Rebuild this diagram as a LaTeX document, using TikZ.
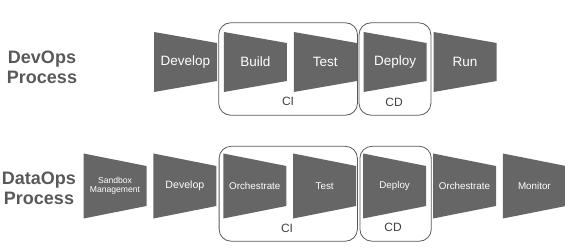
\documentclass[tikz,border=0pt]{standalone}
\usepackage{fontspec}
\setmainfont{Liberation Sans}
\usetikzlibrary{positioning,calc}
\definecolor{stagegray}{HTML}{666666}
\definecolor{boxgray}{HTML}{5A5A5A}
\definecolor{lblgray}{HTML}{595959}
\tikzset{
  stage/.style={minimum width=63pt, minimum height=60pt, inner sep=0pt, text=white,
    font=\fontsize{13.5}{14}\selectfont, align=center,
    path picture={\fill[stagegray] (path picture bounding box.north west)
      -- ([yshift=-11pt]path picture bounding box.north east)
      -- ([yshift=11pt]path picture bounding box.south east)
      -- (path picture bounding box.south west) -- cycle;}},
  sstage/.style={stage, minimum height=65pt, font=\fontsize{9.8}{10}\selectfont,
    path picture={\fill[stagegray] (path picture bounding box.north west)
      -- ([yshift=-12.5pt]path picture bounding box.north east)
      -- ([yshift=12.5pt]path picture bounding box.south east)
      -- (path picture bounding box.south west) -- cycle;}},
  grp/.style={draw=boxgray, line width=0.8pt, rounded corners=12pt},
  grplab/.style={font=\fontsize{12}{12}\selectfont, text=black!75},
  proc/.style={font=\fontsize{18}{20}\selectfont\bfseries, text=lblgray, align=center},
}
\begin{document}
\begin{tikzpicture}[x=1pt, y=1pt, node distance=6.5pt]
 \useasboundingbox (0,0) rectangle (565,-251);
 % DevOps row
 \node[proc] (devops) at (42,-67) {DevOps\\Process};
 \node[stage] (dev) at (185.5,-62) {Develop};
 \node[stage, right=of dev] (build) {Build};
 \node[stage, right=of build] (test) {Test};
 \node[stage, right=of test] (deploy) {Deploy};
 \node[stage, right=of deploy] (run) {Run};
 \draw[grp] ($(build.north west)+(-5,9)$) rectangle ($(test.south east)+(0.5,-23)$);
 \draw[grp] ($(deploy.north west)+(-4.5,9)$) rectangle ($(deploy.south east)+(4,-23)$);
 \node[grplab] (ci) at (288,-101) {CI};
 \node[grplab] (cd) at (394,-102) {CD};
 % DataOps row
 \node[proc] (dataops) at (39,-188) {DataOps\\Process};
 \node[sstage, font=\fontsize{8.6}{9.5}\selectfont] (sbx) at (115,-186) {Sandbox\\Management};
 \node[sstage, right=of sbx, font=\fontsize{10.6}{11}\selectfont] (ddev) {Develop};
 \node[sstage, right=of ddev] (orch) {Orchestrate};
 \node[sstage, right=of orch] (dtest) {Test};
 \node[sstage, right=of dtest] (ddeploy) {Deploy};
 \node[sstage, right=of ddeploy] (orch2) {Orchestrate};
 \node[sstage, right=of orch2] (mon) {Monitor};
 \draw[grp] ($(orch.north west)+(-4,7)$) rectangle ($(dtest.south east)+(1,-22.5)$);
 \draw[grp] ($(ddeploy.north west)+(-3,7)$) rectangle ($(ddeploy.south east)+(5,-22.5)$);
 \node[grplab] (dci) at (287,-228) {CI};
 \node[grplab] (dcd) at (393,-227) {CD};
\end{tikzpicture}
\end{document}
